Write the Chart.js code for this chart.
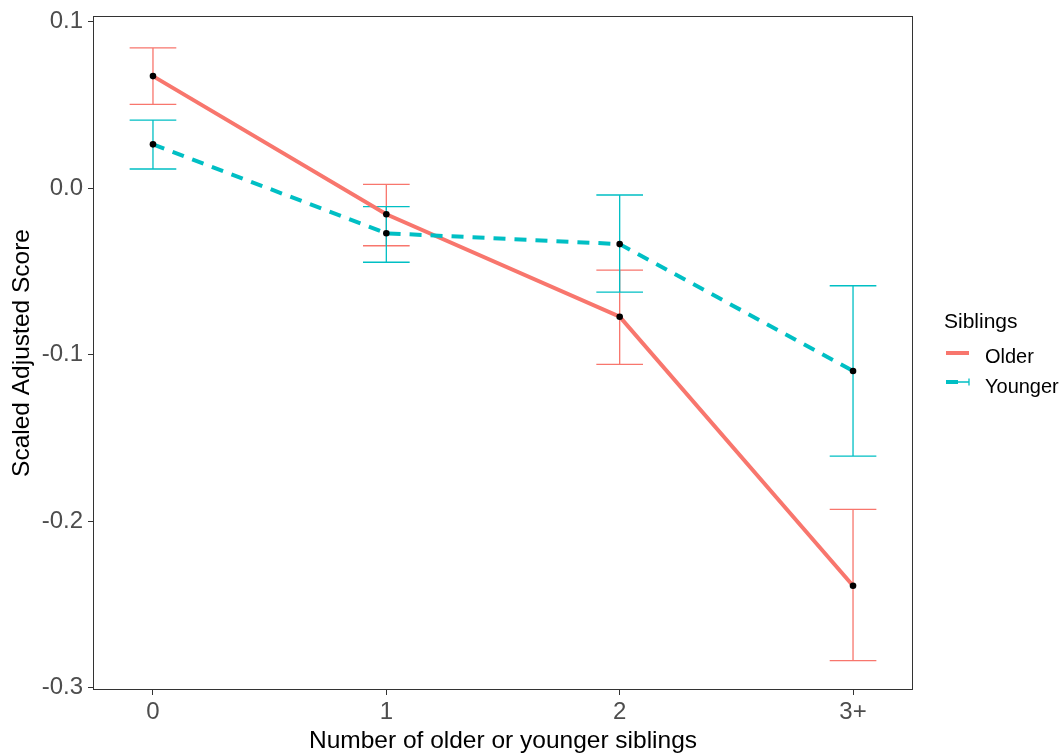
<!DOCTYPE html>
<html><head><meta charset="utf-8">
<script src="https://cdn.jsdelivr.net/npm/chart.js@4.4.1/dist/chart.umd.min.js"></script>
<style>html,body{margin:0;padding:0;background:#fff}canvas{display:block}</style>
</head><body>
<canvas id="c" width="1061" height="756"></canvas>
<script>
// ---- data ----
const categories = ['0', '1', '2', '3+'];
const seriesNames = ['Older', 'Younger'];
const legendTitle = 'Siblings';
const olderMean  = [0.0674, -0.0156, -0.0771, -0.2387];
const olderLow   = [0.0504, -0.0345, -0.1057, -0.2837];
const olderHigh  = [0.0844,  0.0024, -0.0491, -0.1928];
const youngerMean = [0.0264, -0.0270, -0.0335, -0.1097];
const youngerLow  = [0.0116, -0.0444, -0.0623, -0.1608];
const youngerHigh = [0.0410, -0.0110, -0.0040, -0.0585];
const yTicks = [-0.3, -0.2, -0.1, 0.0, 0.1];
const yTickLabels = ['-0.3', '-0.2', '-0.1', '0.0', '0.1'];
const xTitle = 'Number of older or younger siblings';
const yTitle = 'Scaled Adjusted Score';

// ---- style ----
const RED = '#F8766D', CYAN = '#00BFC4';
const FONT = "'Liberation Sans', Arial, sans-serif";
const CAP_HALF = 0.1;

const toPts = arr => arr.map((v, i) => ({x: i, y: v}));

const bgPlugin = {
  id: 'bg',
  beforeDraw(chart) {
    const {ctx} = chart;
    ctx.save(); ctx.fillStyle = '#fff'; ctx.fillRect(0, 0, chart.width, chart.height); ctx.restore();
  }
};

const errorBars = {
  id: 'errorBars',
  beforeDatasetsDraw(chart) {
    const {ctx, scales: {x, y}} = chart;
    ctx.save();
    ctx.lineWidth = 1.3;
    [[olderLow, olderHigh, RED], [youngerLow, youngerHigh, CYAN]].forEach(([lo, hi, col]) => {
      ctx.strokeStyle = col;
      categories.forEach((c, i) => {
        const px = x.getPixelForValue(i);
        const l = x.getPixelForValue(i - CAP_HALF), r = x.getPixelForValue(i + CAP_HALF);
        const yl = y.getPixelForValue(lo[i]), yh = y.getPixelForValue(hi[i]);
        ctx.beginPath();
        ctx.moveTo(px, yl); ctx.lineTo(px, yh);
        ctx.moveTo(l, yl); ctx.lineTo(r, yl);
        ctx.moveTo(l, yh); ctx.lineTo(r, yh);
        ctx.stroke();
      });
    });
    ctx.restore();
  }
};

const frameAndLegend = {
  id: 'frameAndLegend',
  afterDraw(chart) {
    const {ctx, chartArea: a} = chart;
    ctx.save();
    ctx.strokeStyle = '#333333';
    ctx.lineWidth = 1;
    ctx.strokeRect(Math.round(a.left) + 0.5, Math.round(a.top) + 0.5, Math.round(a.right - a.left) - 1, Math.round(a.bottom - a.top) - 1);

    // legend
    const lx = a.right + 31;
    ctx.fillStyle = '#000';
    ctx.textBaseline = 'alphabetic';
    ctx.textAlign = 'left';
    ctx.font = '21px ' + FONT;
    ctx.fillText(legendTitle, lx, 328);
    // Older key
    ctx.strokeStyle = RED; ctx.lineWidth = 4; ctx.lineCap = 'butt';
    ctx.beginPath(); ctx.moveTo(lx + 2, 353); ctx.lineTo(lx + 25, 353); ctx.stroke();
    // Younger key
    ctx.strokeStyle = CYAN;
    ctx.beginPath(); ctx.moveTo(lx + 2, 382); ctx.lineTo(lx + 14, 382); ctx.stroke();
    ctx.lineWidth = 1.3;
    ctx.beginPath(); ctx.moveTo(lx + 14, 382); ctx.lineTo(lx + 25, 382);
    ctx.moveTo(lx + 25, 378.5); ctx.lineTo(lx + 25, 385.5); ctx.stroke();
    ctx.font = '20px ' + FONT;
    ctx.fillText(seriesNames[0], lx + 41, 363);
    ctx.fillText(seriesNames[1], lx + 41, 393);
    ctx.restore();
  }
};

Chart.defaults.font.family = FONT;

new Chart(document.getElementById('c'), {
  type: 'line',
  data: {
    datasets: [
      {
        label: seriesNames[0], data: toPts(olderMean), order: 2,
        borderColor: RED, borderWidth: 4, fill: false, tension: 0,
        pointRadius: 3.3, pointBackgroundColor: '#000', pointBorderWidth: 0, pointBorderColor: '#000'
      },
      {
        label: seriesNames[1], data: toPts(youngerMean), order: 1,
        borderColor: CYAN, borderWidth: 4, borderDash: [12, 9], fill: false, tension: 0,
        pointRadius: 3.3, pointBackgroundColor: '#000', pointBorderWidth: 0, pointBorderColor: '#000'
      }
    ]
  },
  options: {
    responsive: false,
    animation: false,
    events: [],
    layout: {padding: {left: 0, right: 148, top: 16, bottom: 0}},
    plugins: {legend: {display: false}, tooltip: {enabled: false}},
    scales: {
      x: {
        type: 'linear', min: -0.257, max: 3.257,
        afterBuildTicks: s => { s.ticks = categories.map((c, i) => ({value: i})); },
        afterFit: s => { s.height = 66; },
        grid: {display: true, drawOnChartArea: false, drawTicks: true, tickLength: 5, color: '#333333', lineWidth: 1},
        border: {display: false},
        ticks: {
          autoSkip: false, maxRotation: 0, padding: 3, color: '#4D4D4D', font: {size: 24},
          callback: (v, i) => categories[i]
        },
        title: {display: true, text: xTitle, color: '#000', font: {size: 24.5}, padding: {top: 0, bottom: 0}}
      },
      y: {
        type: 'linear', min: -0.3013, max: 0.1035,
        afterBuildTicks: s => { s.ticks = yTicks.map(v => ({value: v})); },
        afterFit: s => { s.width = 93; },
        grid: {display: true, drawOnChartArea: false, drawTicks: true, tickLength: 5, color: '#333333', lineWidth: 1},
        border: {display: false},
        ticks: {
          autoSkip: false, padding: 5, color: '#4D4D4D', font: {size: 24, lineHeight: 0.85},
          callback: (v, i) => yTickLabels[i]
        },
        title: {display: true, text: yTitle, color: '#000', font: {size: 24.5}, padding: {top: 8, bottom: 0}}
      }
    }
  },
  plugins: [bgPlugin, errorBars, frameAndLegend]
});
</script>
</body></html>
